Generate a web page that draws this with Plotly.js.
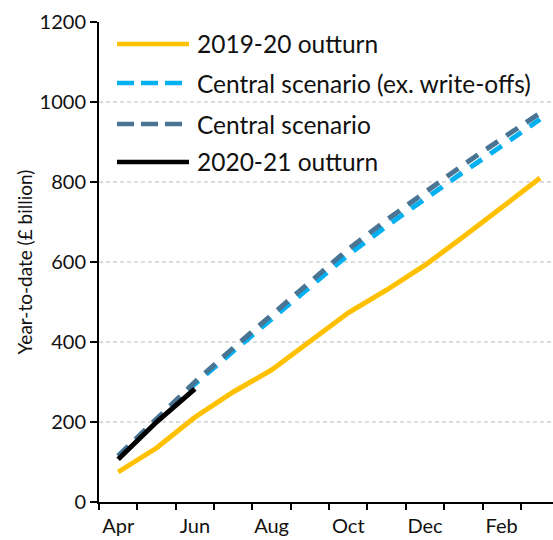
<!DOCTYPE html>
<html>
<head>
<meta charset="utf-8">
<script src="https://cdn.plot.ly/plotly-3.0.1.min.js"></script>
<style>html,body{margin:0;padding:0;background:#fff}#chart{width:553px;height:540px}</style>
</head>
<body>
<div id="chart"></div>
<script>
// Data
var months = ["Apr","May","Jun","Jul","Aug","Sep","Oct","Nov","Dec","Jan","Feb","Mar"];
var tickMonths = ["Apr","Jun","Aug","Oct","Dec","Feb"];
var outturn1920 = [75, 135, 212, 275, 330, 400, 473, 530, 592, 663, 735, 810];
var centralExWriteOffs = [115, 205, 295, 377, 458, 540, 618, 690, 758, 825, 890, 957];
var central = [115, 208, 300, 385, 468, 552, 632, 705, 775, 843, 908, 972];
var outturn2021 = [107, 200, 283];
var seriesNames = ["2019-20 outturn", "Central scenario (ex. write-offs)", "Central scenario", "2020-21 outturn"];
var colors = ["#FFC000", "#00B0F0", "#4A7494", "#000000"];

var FONT = "Lato, 'Open Sans', sans-serif";
var idx = months.map(function(m, i){ return i; });
var tickIdx = tickMonths.map(function(m){ return months.indexOf(m); });
var boundaries = months.map(function(m, i){ return i - 0.5; }).concat([months.length - 0.5]);

var traces = [
  {x: idx, y: outturn1920, name: seriesNames[0], mode: "lines", line: {color: colors[0], width: 5}},
  {x: idx, y: centralExWriteOffs, name: seriesNames[1], mode: "lines", line: {color: colors[1], width: 5, dash: "14px,10px"}},
  {x: idx, y: central, name: seriesNames[2], mode: "lines", line: {color: colors[2], width: 5, dash: "14px,10px"}},
  {x: idx.slice(0, outturn2021.length), y: outturn2021, name: seriesNames[3], mode: "lines", line: {color: colors[3], width: 5}}
];
traces.forEach(function(t){ t.showlegend = false; t.hoverinfo = "skip"; });

// manual legend (long sample lines)
var L = 99, W = 454, B = 502, H = 480;
function px(p){ return (p - L) / W; }
function py(p){ return (B - p) / H; }
var rowsY = [44, 83, 124, 162];
var shapes = [], annotations = [];
var dashes = ["solid", "17px,7px", "17px,7px", "solid"];
var ends = [189, 182, 182, 189];
for (var i = 0; i < 4; i++) {
  shapes.push({type: "line", xref: "paper", yref: "paper", x0: px(117), x1: px(ends[i]), y0: py(rowsY[i]), y1: py(rowsY[i]),
    line: {color: colors[i], width: 4.5, dash: dashes[i]}});
  annotations.push({xref: "paper", yref: "paper", x: px(195), y: py(rowsY[i]), xanchor: "left", yanchor: "middle",
    text: seriesNames[i], showarrow: false, font: {family: FONT, size: 24.5, color: "#111"}});
}

var layout = {
  width: 553, height: 540,
  margin: {l: 99, r: 0, t: 22, b: 38},
  paper_bgcolor: "#fff", plot_bgcolor: "#fff",
  showlegend: false,
  font: {family: FONT, color: "#111"},
  xaxis: {
    range: [-0.5, 11.338], tickvals: tickIdx, ticktext: tickMonths, ticks: "",
    showgrid: false, zeroline: false, showline: true, linecolor: "#000", linewidth: 2,
    ticklabelstandoff: 5,
    tickfont: {family: FONT, size: 20, color: "#111"}, fixedrange: true
  },
  xaxis2: {
    overlaying: "x", side: "bottom", range: [-0.5, 11.338], tickvals: boundaries,
    ticks: "outside", ticklen: 7, tickwidth: 2, tickcolor: "#000",
    showticklabels: false, showgrid: false, zeroline: false, showline: false
  },
  yaxis: {
    range: [0, 1200], tickvals: [0, 200, 400, 600, 800, 1000, 1200],
    ticks: "outside", ticklen: 7, tickwidth: 2, tickcolor: "#000",
    showline: true, linecolor: "#000", linewidth: 2, zeroline: false,
    showgrid: true, gridcolor: "#dcdcdc", gridwidth: 1.5, griddash: "4px,3px",
    tickfont: {family: FONT, size: 20, color: "#111"},
    title: {text: "Year-to-date (£ billion)", font: {family: FONT, size: 19, color: "#111"}, standoff: 2}
  },
  shapes: shapes,
  annotations: annotations
};

// dummy trace to activate xaxis2
traces.unshift({x: [0], y: [null], xaxis: "x2", yaxis: "y", showlegend: false, hoverinfo: "skip", mode: "lines"});

Plotly.newPlot("chart", traces, layout, {displayModeBar: false, staticPlot: true});
</script>
</body>
</html>
